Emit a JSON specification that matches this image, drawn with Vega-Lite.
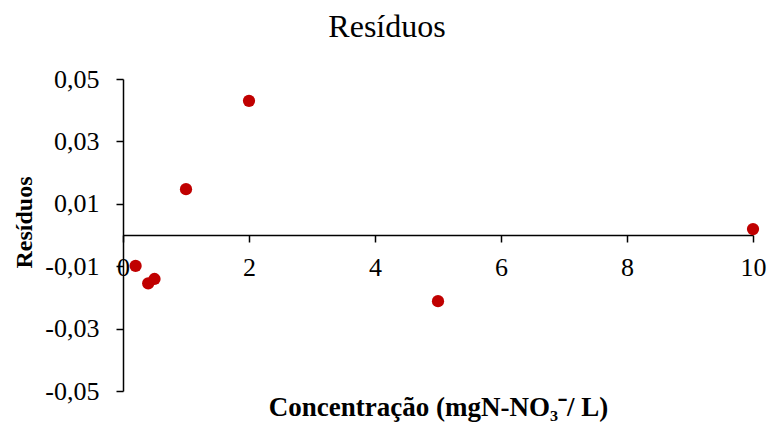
{
  "$schema": "https://vega.github.io/schema/vega-lite/v6.json",
  "autosize": "none",
  "width": 630,
  "height": 312,
  "padding": {"left": 123, "top": 79, "right": 15, "bottom": 34},
  "background": "white",
  "title": {
    "text": "Resíduos",
    "font": "Liberation Serif",
    "fontSize": 32,
    "fontWeight": "normal",
    "color": "black",
    "anchor": "middle",
    "dx": -51,
    "offset": 22
  },
  "data": {
    "values": [
      {"x": 0.2, "y": -0.0099},
      {"x": 0.4, "y": -0.0155},
      {"x": 0.5, "y": -0.0141},
      {"x": 1, "y": 0.0147},
      {"x": 2, "y": 0.043},
      {"x": 5, "y": -0.0212},
      {"x": 10, "y": 0.0019}
    ]
  },
  "mark": {"type": "point", "filled": true, "shape": "circle", "size": 150, "color": "#C00000", "opacity": 1, "clip": false},
  "encoding": {
    "x": {
      "field": "x",
      "type": "quantitative",
      "scale": {"domain": [0, 10], "nice": false, "zero": false},
      "axis": {
        "title": "Concentração (mgN-NO₃⁻/ L)",
        "values": [0, 2, 4, 6, 8, 10],
        "grid": false,
        "offset": -156,
        "domainColor": "black",
        "domainWidth": 1.5,
        "tickColor": "black",
        "tickWidth": 1.5,
        "tickSize": 7,
        "labelFont": "Liberation Serif",
        "labelFontSize": 26,
        "labelColor": "black",
        "labelBaseline": "alphabetic",
        "labelPadding": 33,
        "labelOverlap": false,
        "labelFlush": false,
        "titleFont": "Liberation Serif",
        "titleFontSize": 27,
        "titleFontWeight": "bold",
        "titleColor": "black",
        "titleBaseline": "alphabetic",
        "titleY": 180
      }
    },
    "y": {
      "field": "y",
      "type": "quantitative",
      "scale": {"domain": [-0.05, 0.05], "nice": false, "zero": false},
      "axis": {
        "title": "Resíduos",
        "values": [-0.05, -0.03, -0.01, 0.01, 0.03, 0.05],
        "grid": false,
        "labelExpr": "replace(replace(format(datum.value, '.2f'), '.', ','), '\u2212', '-')",
        "domainColor": "black",
        "domainWidth": 1.5,
        "tickColor": "black",
        "tickWidth": 1.5,
        "tickSize": 7,
        "labelFont": "Liberation Serif",
        "labelFontSize": 26,
        "labelColor": "black",
        "labelPadding": 17,
        "labelOverlap": false,
        "labelFlush": false,
        "titleFont": "Liberation Serif",
        "titleFontSize": 24,
        "titleFontWeight": "bold",
        "titleColor": "black",
        "titleBaseline": "alphabetic",
        "titleX": -92,
        "titleY": 143
      }
    }
  },
  "config": {"view": {"stroke": null}}
}
